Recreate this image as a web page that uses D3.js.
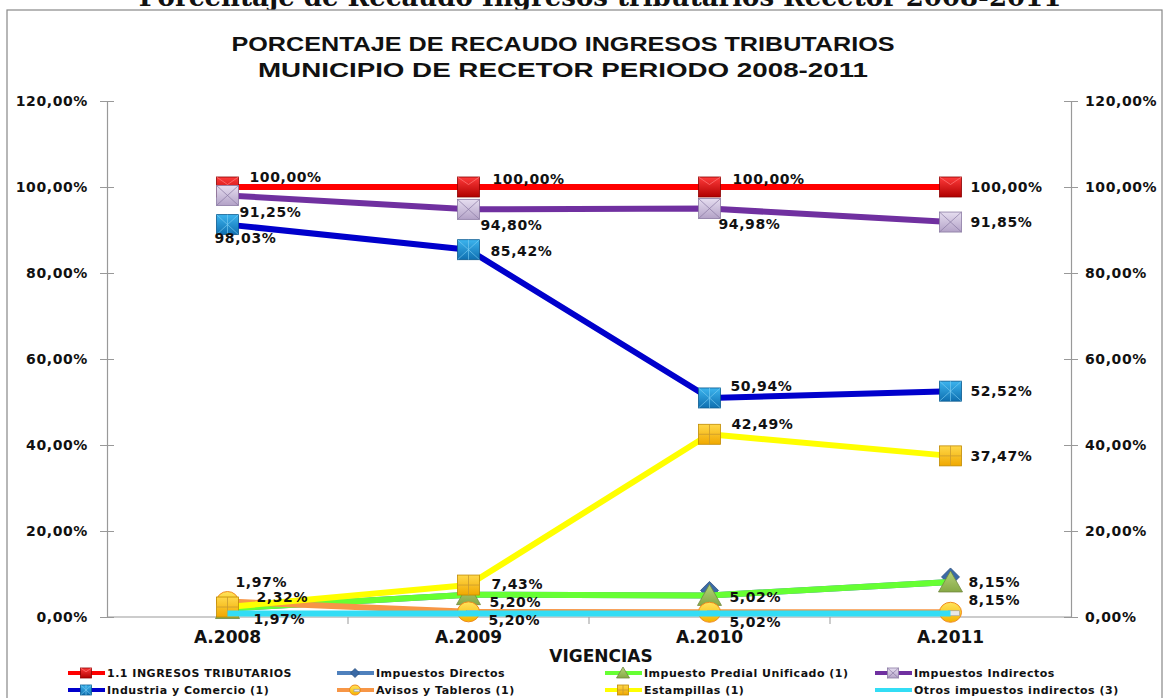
<!DOCTYPE html>
<html>
<head>
<meta charset="utf-8">
<title>Porcentaje de recaudo ingresos tributarios - Recetor 2008-2011</title>
<style>
    body { margin: 0; background: #fff; }
    svg { display: block; }
    .lbl { font-family: "DejaVu Sans", Verdana, sans-serif; font-weight: bold; font-size: 14px; letter-spacing: 0.6px; fill: #111; }
    .tick-lbl { font-family: "DejaVu Sans", Verdana, sans-serif; font-weight: bold; font-size: 14px; letter-spacing: 0.6px; fill: #111; }
    .cat-lbl { font-family: "DejaVu Sans", Verdana, sans-serif; font-weight: bold; font-size: 17px; fill: #111; }
    .title { font-family: "Liberation Sans Narrow", "Liberation Sans", Arial, sans-serif; font-weight: bold; font-size: 21px; fill: #111; }
    .legend text { font-family: "DejaVu Sans", Verdana, sans-serif; font-weight: bold; font-size: 11px; letter-spacing: 0.5px; fill: #111; }
</style>
<script src="https://d3js.org/d3.v7.min.js"></script>
</head>
<body>
<div id="chart"></div>
<script>
    // ---- data ----
    const categories = ["A.2008", "A.2009", "A.2010", "A.2011"];
    const ingresosTributarios = [100.00, 100.00, 100.00, 100.00];
    const impuestosDirectos = [1.97, 5.20, 5.02, 8.15];
    const predialUnificado = [1.97, 5.20, 5.02, 8.15];
    const impuestosIndirectos = [98.03, 94.80, 94.98, 91.85];
    const industriaComercio = [91.25, 85.42, 50.94, 52.52];
    const avisosTableros = [3.6, 1.2, 1.1, 1.1];
    const estampillas = [2.32, 7.43, 42.49, 37.47];
    const otrosIndirectos = [0.8, 0.8, 0.8, 0.8];
    const yTicks = [0, 20, 40, 60, 80, 100, 120];

    const seriesNames = ["1.1 INGRESOS TRIBUTARIOS", "Impuestos Directos", "Impuesto Predial Unificado (1)",
        "Impuestos Indirectos", "Industria y Comercio (1)", "Avisos y Tableros (1)", "Estampillas (1)",
        "Otros impuestos indirectos (3)"];

    // series in drawing order (later ones on top, like the original)
    const series = [
        { name: seriesNames[0], values: ingresosTributarios, color: "#ff0000", marker: "redsq" },
        { name: seriesNames[1], values: impuestosDirectos, color: "#4f81bd", marker: "diamond" },
        { name: seriesNames[2], values: predialUnificado, color: "#66ff33", marker: "triangle" },
        { name: seriesNames[3], values: impuestosIndirectos, color: "#7030a0", marker: "envelope" },
        { name: seriesNames[4], values: industriaComercio, color: "#0000cc", marker: "xsquare" },
        { name: seriesNames[5], values: avisosTableros, color: "#f79646", marker: "circle" },
        { name: seriesNames[6], values: estampillas, color: "#ffff00", marker: "plus" },
        { name: seriesNames[7], values: otrosIndirectos, color: "#33ddf5", marker: null }
    ];

    // data labels: series index, category index, offset from the point
    const labels = [
        { s: 0, i: 0, dx: 22, dy: -10 }, { s: 0, i: 1, dx: 24, dy: -8 },
        { s: 0, i: 2, dx: 23, dy: -8 }, { s: 0, i: 3, dx: 20, dy: 0 },
        { s: 3, i: 0, dx: -13, dy: 43 }, { s: 3, i: 1, dx: 12, dy: 16 },
        { s: 3, i: 2, dx: 9, dy: 16 }, { s: 3, i: 3, dx: 20, dy: 0 },
        { s: 4, i: 0, dx: 12, dy: -13 }, { s: 4, i: 1, dx: 22, dy: 1 },
        { s: 4, i: 2, dx: 21, dy: -12 }, { s: 4, i: 3, dx: 20, dy: 0 },
        { s: 6, i: 1, dx: 23, dy: -1 }, { s: 6, i: 2, dx: 22, dy: -10 },
        { s: 6, i: 3, dx: 20, dy: 0 }, { s: 6, i: 0, dx: 29, dy: -10 },
        { s: 1, i: 0, dx: 8, dy: -26 }, { s: 2, i: 0, dx: 26, dy: 11 },
        { s: 2, i: 1, dx: 21, dy: 7 }, { s: 1, i: 1, dx: 20, dy: 25 },
        { s: 2, i: 2, dx: 20, dy: 2 }, { s: 1, i: 2, dx: 20, dy: 27 },
        { s: 2, i: 3, dx: 18, dy: 0 }, { s: 1, i: 3, dx: 18, dy: 18 }
    ];

    const W = 1167, H = 698;
    const plotL = 107, plotR = 1071, plotT = 101, plotB = 617;

    const svg = d3.select("#chart").append("svg")
        .attr("width", W).attr("height", H);

    const defs = svg.append("defs");
    function grad(id, c1, c2) {
        const g = defs.append("linearGradient").attr("id", id)
            .attr("x1", 0).attr("y1", 0).attr("x2", 0).attr("y2", 1);
        g.append("stop").attr("offset", "0%").attr("stop-color", c1);
        g.append("stop").attr("offset", "100%").attr("stop-color", c2);
    }
    grad("gRed", "#ff3b3b", "#b00000");
    grad("gBlue", "#3cb4ee", "#0f6fb0");
    grad("gGold", "#ffd84a", "#f0a800");
    grad("gLav", "#e6def0", "#b3a2c7");
    grad("gGreen", "#b5d37a", "#86a845");
    grad("gCirc", "#ffe45c", "#f5b400");

    // cut-off heading above the frame
    svg.append("text")
        .attr("x", 600).attr("y", 6)
        .attr("text-anchor", "middle")
        .style("font-family", "'DejaVu Serif', serif").style("font-weight", "bold")
        .style("font-size", "26px").style("fill", "#111")
        .text("Porcentaje de Recaudo Ingresos tributarios Recetor 2008-2011");

    // chart frame
    svg.append("rect")
        .attr("x", 7).attr("y", 10).attr("width", 1155).attr("height", 700)
        .attr("fill", "#fff").attr("stroke", "#888").attr("stroke-width", 1.2);

    // title
    const title = svg.append("g");
    title.append("text").attr("class", "title")
        .attr("x", 563).attr("y", 51).attr("text-anchor", "middle")
        .attr("textLength", 663).attr("lengthAdjust", "spacingAndGlyphs")
        .text("PORCENTAJE DE RECAUDO INGRESOS TRIBUTARIOS");
    title.append("text").attr("class", "title")
        .attr("x", 563).attr("y", 77).attr("text-anchor", "middle")
        .attr("textLength", 610).attr("lengthAdjust", "spacingAndGlyphs")
        .text("MUNICIPIO DE RECETOR  PERIODO 2008-2011");

    const x = d3.scaleBand().domain(categories).range([plotL, plotR]);
    const y = d3.scaleLinear().domain([0, 120]).range([plotB, plotT]);
    const px = i => x(categories[i]) + x.bandwidth() / 2;
    const fmt = v => d3.format(".2f")(v).replace(".", ",") + "%";

    // left axis
    const gl = svg.append("g").attr("transform", `translate(${plotL},0)`)
        .call(d3.axisLeft(y).tickValues(yTicks).tickSize(7).tickFormat(d => fmt(d)));
    gl.attr("font-size", null).attr("font-family", null);
    gl.select(".domain").attr("stroke", "#999").attr("stroke-width", 1.2);
    gl.selectAll(".tick line").attr("stroke", "#999").attr("x2", -7).attr("x1", 7);
    gl.selectAll(".tick text").attr("class", "tick-lbl").attr("x", -19);

    // right axis
    const gr = svg.append("g").attr("transform", `translate(${plotR},0)`)
        .call(d3.axisRight(y).tickValues(yTicks).tickSize(7).tickFormat(d => fmt(d)));
    gr.attr("font-size", null).attr("font-family", null);
    gr.select(".domain").attr("stroke", "#999").attr("stroke-width", 1.2);
    gr.selectAll(".tick line").attr("stroke", "#999").attr("x1", -7).attr("x2", 7);
    gr.selectAll(".tick text").attr("class", "tick-lbl").attr("x", 14);

    // category axis
    const gx = svg.append("g").attr("transform", `translate(0,${plotB})`);
    gx.append("line").attr("x1", plotL).attr("x2", plotR).attr("stroke", "#999").attr("stroke-width", 1.2);
    categories.forEach((c, i) => {
        if (i > 0) gx.append("line").attr("x1", x(c)).attr("x2", x(c)).attr("y1", 0).attr("y2", 7).attr("stroke", "#999");
    });
    gx.selectAll("text.cat-lbl").data(categories).join("text")
        .attr("class", "cat-lbl")
        .attr("x", (d, i) => px(i)).attr("y", 26)
        .attr("text-anchor", "middle").text(d => d);
    svg.append("text").attr("class", "cat-lbl")
        .attr("x", 601).attr("y", 662).attr("text-anchor", "middle").text("VIGENCIAS");

    // markers
    function drawMarker(g, type, cx, cy, s) {
        const w = 22 * s, h = 20 * s;
        const m = g.append("g").attr("transform", `translate(${cx},${cy})`);
        if (type === "redsq") {
            m.append("rect").attr("x", -w / 2).attr("y", -h / 2).attr("width", w).attr("height", h)
                .attr("fill", "url(#gRed)").attr("stroke", "#8c0000").attr("stroke-width", 0.8);
            m.append("path").attr("d", `M${-w / 2},${-h / 2}L0,${-h / 8}L${w / 2},${-h / 2}`)
                .attr("fill", "none").attr("stroke", "#ff7070").attr("stroke-width", 0.8);
        } else if (type === "diamond") {
            const r = 9 * s;
            m.append("path").attr("d", `M0,${-r}L${r},0L0,${r}L${-r},0Z`)
                .attr("fill", "#3a6aa6").attr("stroke", "#2c4f7c").attr("stroke-width", 0.8);
        } else if (type === "triangle") {
            m.append("path").attr("d", `M0,${-h / 2 - 1}L${w / 2 + 1},${h / 2}L${-w / 2 - 1},${h / 2}Z`)
                .attr("fill", "url(#gGreen)").attr("stroke", "#71893f").attr("stroke-width", 0.8);
        } else if (type === "envelope") {
            m.append("rect").attr("x", -w / 2).attr("y", -h / 2).attr("width", w).attr("height", h)
                .attr("fill", "url(#gLav)").attr("stroke", "#8a7aa3").attr("stroke-width", 0.8);
            m.append("path").attr("d", `M${-w / 2},${-h / 2}L${w / 2},${h / 2}M${w / 2},${-h / 2}L${-w / 2},${h / 2}`)
                .attr("stroke", "#8a7aa3").attr("stroke-width", 0.7);
        } else if (type === "xsquare") {
            m.append("rect").attr("x", -w / 2).attr("y", -h / 2).attr("width", w).attr("height", h)
                .attr("fill", "url(#gBlue)").attr("stroke", "#0b5a8f").attr("stroke-width", 0.8);
            m.append("path").attr("d", `M${-w / 2},${-h / 2}L${w / 2},${h / 2}M${w / 2},${-h / 2}L${-w / 2},${h / 2}M0,${-h / 2}L0,${h / 2}`)
                .attr("stroke", "#7fd0f5").attr("stroke-width", 0.6);
        } else if (type === "circle") {
            m.append("ellipse").attr("rx", w / 2).attr("ry", h / 2)
                .attr("fill", "url(#gCirc)").attr("stroke", "#f08a1c").attr("stroke-width", 1);
            m.append("rect").attr("x", -2 * s).attr("y", -1.5 * s).attr("width", 11 * s).attr("height", 5 * s)
                .attr("fill", "#e8e8e8").attr("stroke", "#999").attr("stroke-width", 0.6);
        } else if (type === "plus") {
            m.append("rect").attr("x", -w / 2).attr("y", -h / 2).attr("width", w).attr("height", h)
                .attr("fill", "url(#gGold)").attr("stroke", "#c08a00").attr("stroke-width", 0.8);
            m.append("path").attr("d", `M0,${-h / 2}L0,${h / 2}M${-w / 2},0L${w / 2},0`)
                .attr("stroke", "#c99a30").attr("stroke-width", 0.8);
        }
    }

    const line = d3.line().x((d, i) => px(i)).y(d => y(d));
    const plot = svg.append("g");
    series.forEach(sr => {
        plot.append("path").datum(sr.values)
            .attr("d", line).attr("fill", "none")
            .attr("stroke", sr.color).attr("stroke-width", 6)
            .attr("stroke-linejoin", "round");
        if (sr.marker) {
            sr.values.forEach((v, i) => {
                const dy = sr.marker === "diamond" ? -5 : 0;
                drawMarker(plot, sr.marker, px(i), y(v) + dy, 1);
            });
        }
    });

    // data labels
    svg.append("g").selectAll("text").data(labels).join("text")
        .attr("class", "lbl")
        .attr("x", d => px(d.i) + d.dx)
        .attr("y", d => y(series[d.s].values[d.i]) + d.dy)
        .attr("dy", "0.35em")
        .text(d => fmt(series[d.s].values[d.i]));

    // legend
    const legendCols = [68, 337, 605, 875];
    const legendRows = [673, 690];
    const lg = svg.append("g").attr("class", "legend");
    series.forEach((sr, k) => {
        const lx = legendCols[k % 4], ly = legendRows[Math.floor(k / 4)];
        lg.append("line").attr("x1", lx).attr("x2", lx + 37).attr("y1", ly).attr("y2", ly)
            .attr("stroke", sr.color).attr("stroke-width", 4);
        if (sr.marker) drawMarker(lg, sr.marker, lx + 18, ly, 0.5);
        lg.append("text").attr("x", lx + 39).attr("y", ly).attr("dy", "0.35em").text(sr.name);
    });
</script>
</body>
</html>
